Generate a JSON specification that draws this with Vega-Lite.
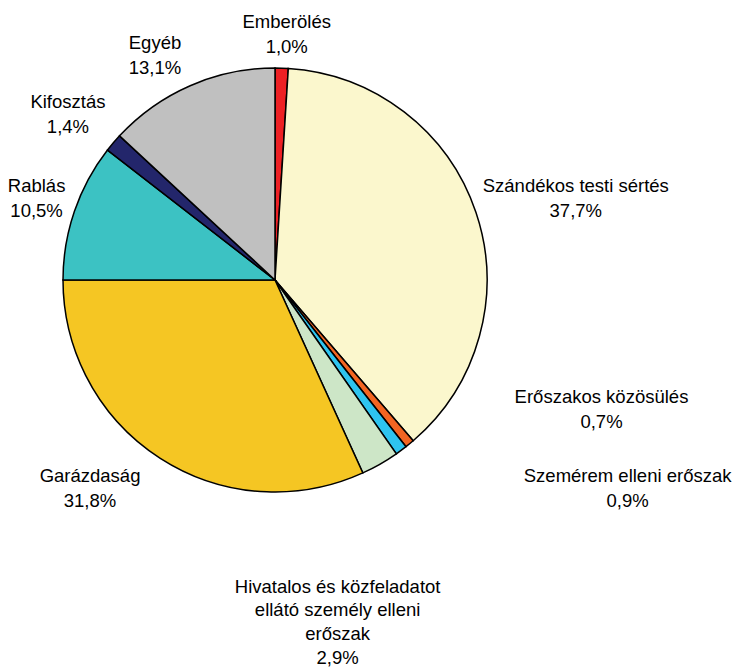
{
  "$schema": "https://vega.github.io/schema/vega-lite/v6.json",
  "width": 550,
  "height": 560,
  "autosize": {"type": "none"},
  "padding": {"left": 0, "top": 0, "right": 185, "bottom": 110},
  "background": "white",
  "config": {"view": {"stroke": null}, "font": "Liberation Sans"},
  "data": {
    "values": [
      {"kategoria": "Emberölés", "szazalek": 1.0, "sorrend": 1, "cimke": ["Emberölés", "1,0%"]},
      {"kategoria": "Szándékos testi sértés", "szazalek": 37.7, "sorrend": 2, "cimke": ["Szándékos testi sértés", "37,7%"]},
      {"kategoria": "Erőszakos közösülés", "szazalek": 0.7, "sorrend": 3, "cimke": ["Erőszakos közösülés", "0,7%"]},
      {"kategoria": "Szemérem elleni erőszak", "szazalek": 0.9, "sorrend": 4, "cimke": ["Szemérem elleni erőszak", "0,9%"]},
      {"kategoria": "Hivatalos és közfeladatot ellátó személy elleni erőszak", "szazalek": 2.9, "sorrend": 5, "cimke": ["Hivatalos és közfeladatot", "ellátó személy elleni", "erőszak", "2,9%"]},
      {"kategoria": "Garázdaság", "szazalek": 31.8, "sorrend": 6, "cimke": ["Garázdaság", "31,8%"]},
      {"kategoria": "Rablás", "szazalek": 10.5, "sorrend": 7, "cimke": ["Rablás", "10,5%"]},
      {"kategoria": "Kifosztás", "szazalek": 1.4, "sorrend": 8, "cimke": ["Kifosztás", "1,4%"]},
      {"kategoria": "Egyéb", "szazalek": 13.1, "sorrend": 9, "cimke": ["Egyéb", "13,1%"]}
    ]
  },
  "encoding": {
    "theta": {"field": "szazalek", "type": "quantitative", "stack": true},
    "order": {"field": "sorrend", "type": "quantitative"}
  },
  "layer": [
    {
      "mark": {"type": "arc", "outerRadius": 212, "stroke": "black", "strokeWidth": 1.5},
      "encoding": {
        "color": {
          "field": "kategoria",
          "type": "nominal",
          "legend": null,
          "scale": {
            "domain": ["Emberölés", "Szándékos testi sértés", "Erőszakos közösülés", "Szemérem elleni erőszak", "Hivatalos és közfeladatot ellátó személy elleni erőszak", "Garázdaság", "Rablás", "Kifosztás", "Egyéb"],
            "range": ["#ED2024", "#FBF7CD", "#F26522", "#2EC4F0", "#CDE6C7", "#F5C623", "#3CC2C3", "#23266B", "#C0C0C0"]
          }
        }
      }
    },
    {
      "mark": {"type": "text", "radius": 246, "dx": 4, "dy": -12.5, "fontSize": 18.5, "lineHeight": 25, "align": "center", "baseline": "middle", "color": "black"},
      "encoding": {"text": {"condition": {"test": "datum.sorrend === 1", "field": "cimke"}, "value": ""}}
    },
    {
      "mark": {"type": "text", "radius": 312, "dx": 5, "dy": 5.5, "fontSize": 18.5, "lineHeight": 25, "align": "center", "baseline": "middle", "color": "black"},
      "encoding": {"text": {"condition": {"test": "datum.sorrend === 2", "field": "cimke"}, "value": ""}}
    },
    {
      "mark": {"type": "text", "radius": 300, "dx": 136, "dy": -114.5, "fontSize": 18.5, "lineHeight": 25, "align": "center", "baseline": "middle", "color": "black"},
      "encoding": {"text": {"condition": {"test": "datum.sorrend === 3", "field": "cimke"}, "value": ""}}
    },
    {
      "mark": {"type": "text", "radius": 300, "dx": 174, "dy": -45.5, "fontSize": 18.5, "lineHeight": 25, "align": "center", "baseline": "middle", "color": "black"},
      "encoding": {"text": {"condition": {"test": "datum.sorrend === 4", "field": "cimke"}, "value": ""}}
    },
    {
      "mark": {"type": "text", "radius": 300, "dx": -86, "dy": 46, "fontSize": 18.5, "lineHeight": 23.7, "align": "center", "baseline": "middle", "color": "black"},
      "encoding": {"text": {"condition": {"test": "datum.sorrend === 5", "field": "cimke"}, "value": ""}}
    },
    {
      "mark": {"type": "text", "radius": 279, "dx": -34, "dy": -38.5, "fontSize": 18.5, "lineHeight": 25, "align": "center", "baseline": "middle", "color": "black"},
      "encoding": {"text": {"condition": {"test": "datum.sorrend === 6", "field": "cimke"}, "value": ""}}
    },
    {
      "mark": {"type": "text", "radius": 252, "dx": 0, "dy": -12.5, "fontSize": 18.5, "lineHeight": 25, "align": "center", "baseline": "middle", "color": "black"},
      "encoding": {"text": {"condition": {"test": "datum.sorrend === 7", "field": "cimke"}, "value": ""}}
    },
    {
      "mark": {"type": "text", "radius": 265, "dx": -5, "dy": -6.5, "fontSize": 18.5, "lineHeight": 25, "align": "center", "baseline": "middle", "color": "black"},
      "encoding": {"text": {"condition": {"test": "datum.sorrend === 8", "field": "cimke"}, "value": ""}}
    },
    {
      "mark": {"type": "text", "radius": 255, "dx": -18, "dy": -3.5, "fontSize": 18.5, "lineHeight": 25, "align": "center", "baseline": "middle", "color": "black"},
      "encoding": {"text": {"condition": {"test": "datum.sorrend === 9", "field": "cimke"}, "value": ""}}
    }
  ]
}
